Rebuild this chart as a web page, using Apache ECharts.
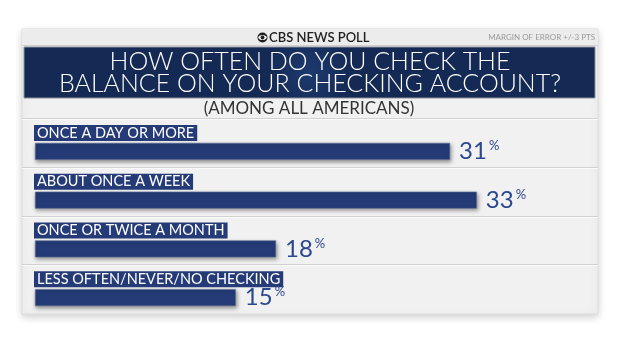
<!DOCTYPE html>
<html><head><meta charset="utf-8">
<script src="https://cdn.jsdelivr.net/npm/echarts@6/dist/echarts.min.js"></script>
<style>html,body{margin:0;padding:0;background:#fff}#c{width:620px;height:349px}</style>
</head><body><div id="c"></div>
<script>
var categories = ['ONCE A DAY OR MORE', 'ABOUT ONCE A WEEK', 'ONCE OR TWICE A MONTH', 'LESS OFTEN/NEVER/NO CHECKING'];
var values = [31, 33, 18, 15];
var headerText = 'CBS NEWS POLL';
var marginText = 'MARGIN OF ERROR +/-3 PTS';
var titleLines = ['HOW OFTEN DO YOU CHECK THE', 'BALANCE ON YOUR CHECKING ACCOUNT?'];
var subtitleText = '(AMONG ALL AMERICANS)';

var chart = echarts.init(document.getElementById('c'));
var F = 'Lato, "Open Sans", sans-serif';
var barColor = '#243b77';
var valColor = '#2b4790';

var graphics = [
  {type:'rect', shape:{x:22,y:29,width:576,height:285}, style:{fill:'#f1f1f1', stroke:'#dcdcdc', lineWidth:1, shadowBlur:8, shadowOffsetY:3, shadowColor:'rgba(0,0,0,0.18)'}, z:-10},
  {type:'rect', shape:{x:22,y:29,width:576,height:16}, style:{fill:'#ececec'}, z:-9},
  {type:'line', shape:{x1:22,y1:45.5,x2:598,y2:45.5}, style:{stroke:'#cfcfcf', lineWidth:1}, z:-8},
  {type:'rect', shape:{x:24,y:47,width:571,height:51}, style:{fill:{type:'radial',x:0.5,y:0.5,r:0.8,colorStops:[{offset:0,color:'#1d3a6e'},{offset:1,color:'#142a55'}]}, stroke:'#8a8f99', lineWidth:1}, z:-7},
  {type:'text', style:{text:titleLines[0], x:310, y:62, align:'center', verticalAlign:'middle', fill:'#ffffff', font:'300 25px '+F}, z:-6},
  {type:'text', style:{text:titleLines[1], x:310, y:84, align:'center', verticalAlign:'middle', fill:'#ffffff', font:'300 25px '+F}, z:-6},
  {type:'text', style:{text:subtitleText, x:309, y:108.5, align:'center', verticalAlign:'middle', fill:'#333333', font:'400 17px '+F}, z:-6},
  {type:'text', style:{text:marginText, x:595, y:37.5, align:'right', verticalAlign:'middle', fill:'#9a9a9a', font:'400 8px '+F}, z:-6},
  {type:'text', style:{text:headerText, x:269, y:37.5, align:'left', verticalAlign:'middle', fill:'#1f1f1f', font:'600 13px '+F}, z:-6},
  {type:'circle', shape:{cx:262.5,cy:37.5,r:5}, style:{fill:'#1f1f1f'}, z:-6},
  {type:'ellipse', shape:{cx:262.5,cy:37.5,rx:4.2,ry:2.6}, style:{fill:'#f1f1f1'}, z:-5},
  {type:'circle', shape:{cx:262.5,cy:37.5,r:1.9}, style:{fill:'#1f1f1f'}, z:-4}
];
[118, 167, 216, 264].forEach(function(y){
  graphics.push({type:'line', shape:{x1:22,y1:y+0.5,x2:598,y2:y+0.5}, style:{stroke:'#d2d2d2', lineWidth:1}, z:-8});
  graphics.push({type:'line', shape:{x1:22,y1:y+1.5,x2:598,y2:y+1.5}, style:{stroke:'#fafafa', lineWidth:1}, z:-8});
});

chart.setOption({
  animation:false,
  graphic: graphics,
  grid:{left:35, top:127, height:195, width:535.6},
  xAxis:{type:'value', min:0, max:40, show:false},
  yAxis:{type:'category', data:categories, inverse:true, show:false},
  series:[
    {type:'bar', data:values, barWidth:17, itemStyle:{color:barColor, borderColor:'#5f6f95', borderWidth:0.6, shadowBlur:4, shadowOffsetY:2, shadowOffsetX:1, shadowColor:'rgba(0,0,0,0.4)'},
     label:{show:true, position:[-1,-18], formatter:function(p){return p.name;}, backgroundColor:barColor, color:'#ffffff', fontFamily:F, fontSize:14.5, lineHeight:14, padding:[1,3,1,3]}},
    {type:'bar', data:values, barWidth:17, barGap:'-100%', itemStyle:{color:'rgba(0,0,0,0)'}, silent:true,
     label:{show:true, position:'right', distance:9, formatter:function(p){return '{v|'+p.value+'}{p|%}';},
       rich:{v:{fontFamily:F, fontSize:24, color:valColor, lineHeight:24, verticalAlign:'middle'}, p:{fontFamily:F, fontSize:13, color:valColor, lineHeight:22, verticalAlign:'top', padding:[0,0,0,2]}}}}
  ]
});
</script></body></html>
